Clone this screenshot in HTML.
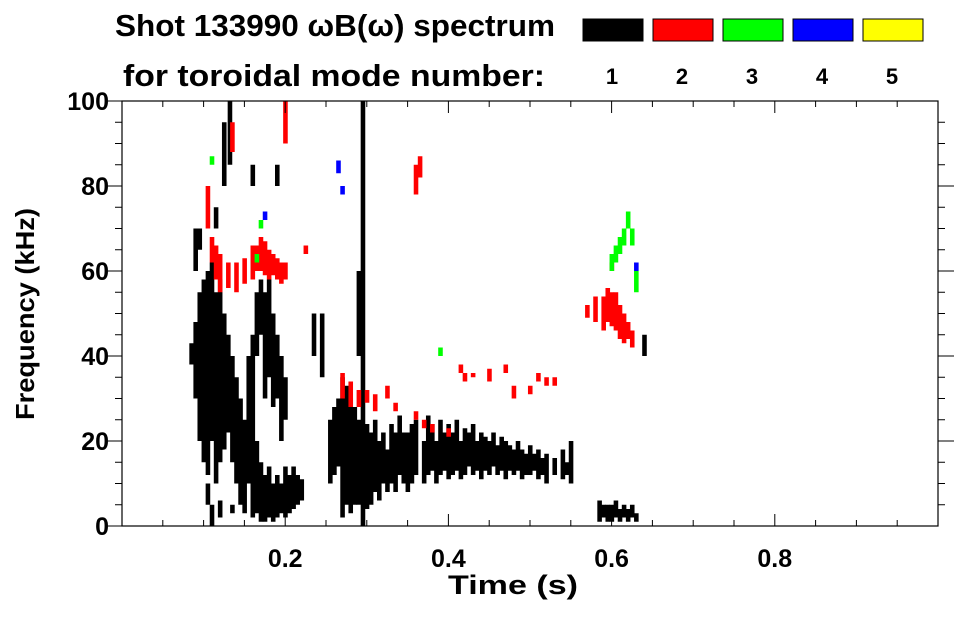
<!DOCTYPE html>
<html><head><meta charset="utf-8"><style>
body{margin:0;background:#fff;}
svg text{font-family:"Liberation Sans",Arial,sans-serif;font-weight:bold;fill:#000;}
</style></head><body>
<svg id="chart" width="963" height="615" viewBox="0 0 963 615" xmlns="http://www.w3.org/2000/svg">
<text x="335" y="36" font-size="31" text-anchor="middle" textLength="440" lengthAdjust="spacingAndGlyphs">Shot 133990 ωB(ω) spectrum</text>
<text x="334" y="86" font-size="31" text-anchor="middle" textLength="422" lengthAdjust="spacingAndGlyphs">for toroidal mode number:</text>
<g id="legend"></g>
<g id="plot"></g>
<g id="axes"></g>
<text x="513" y="594" font-size="27" text-anchor="middle" textLength="130" lengthAdjust="spacingAndGlyphs">Time (s)</text>
<text transform="translate(34,314) rotate(-90)" font-size="26" text-anchor="middle" textLength="212" lengthAdjust="spacingAndGlyphs">Frequency (kHz)</text>
</svg>
<script>
const modeNumbers=[1,2,3,4,5];
const modeColors=["#000000","#ff0000","#00ff00","#0000ff","#ffff00"];
const xTicks=[0.2,0.4,0.6,0.8];
const yTicks=[0,20,40,60,80,100];
const segTime=[0.085,0.09,0.09,0.095,0.095,0.10,0.105,0.105,0.11,0.115,0.115,0.12,0.12,0.125,0.125,0.13,0.135,0.135,0.14,0.145,0.15,0.155,0.16,0.16,0.165,0.165,0.17,0.17,0.175,0.175,0.18,0.18,0.185,0.185,0.19,0.19,0.195,0.195,0.2,0.2,0.205,0.21,0.215,0.22,0.235,0.245,0.255,0.26,0.265,0.27,0.275,0.28,0.285,0.29,0.29,0.295,0.3,0.305,0.31,0.315,0.32,0.325,0.33,0.335,0.34,0.345,0.35,0.355,0.36,0.37,0.375,0.38,0.385,0.39,0.395,0.4,0.405,0.41,0.415,0.42,0.425,0.43,0.435,0.44,0.445,0.45,0.455,0.46,0.465,0.47,0.475,0.48,0.485,0.49,0.495,0.5,0.505,0.51,0.515,0.52,0.53,0.54,0.545,0.55,0.585,0.59,0.595,0.6,0.605,0.61,0.615,0.62,0.625,0.63,0.64,0.11,0.132,0.19,
0.105,0.11,0.115,0.12,0.13,0.14,0.15,0.16,0.165,0.17,0.175,0.18,0.185,0.19,0.195,0.2,0.225,0.135,0.2,0.27,0.28,0.29,0.3,0.31,0.325,0.335,0.36,0.37,0.38,0.36,0.365,0.4,0.415,0.42,0.43,0.45,0.47,0.48,0.5,0.51,0.52,0.53,0.57,0.58,0.59,0.595,0.6,0.605,0.61,0.615,0.62,0.625,0.6,
0.11,0.17,0.165,0.6,0.605,0.61,0.615,0.62,0.625,0.63,0.39,
0.27,0.265,0.175,0.63];
const segLow=[38,30,60,20,65,15,12,5,20,10,70,15,2,18,80,22,15,3,10,5,3,10,2,80,3,40,1,45,1,30,2,35,1,28,2,30,3,20,2,25,3,4,5,6,40,35,10,12,14,2,5,3,5,5,40,0,4,5,8,6,10,8,10,8,12,10,8,10,12,10,12,13,10,12,13,11,12,13,11,12,14,12,13,11,13,12,14,12,13,11,13,12,13,11,12,12,13,11,12,10,12,11,12,10,1,2,1,1,2,1,2,1,2,1,40,0,85,80,
70,62,58,55,56,55,57,58,60,60,59,58,59,58,57,58,64,88,90,30,28,28,29,27,30,27,25,23,22,78,82,21,36,34,35,34,36,30,31,34,33,33,49,48,46,48,47,46,44,43,44,42,60,
85,70,62,60,62,64,66,70,66,55,40,
78,83,72,60];
const segHigh=[43,48,70,55,70,58,60,10,62,55,75,58,6,50,95,45,40,5,35,30,25,40,45,85,20,55,15,58,12,55,14,58,10,50,12,45,10,40,14,35,12,14,12,11,50,50,25,28,30,35,33,30,28,25,60,100,24,22,25,20,22,18,24,22,26,22,22,24,25,20,26,24,20,25,22,24,22,25,20,23,22,24,20,22,21,20,22,19,21,20,19,18,20,18,17,19,17,18,16,17,16,18,15,20,6,5,5,5,6,4,5,4,5,3,45,5,100,85,
80,68,66,64,62,62,63,66,66,68,67,65,64,63,62,62,66,95,100,36,34,32,32,31,33,29,27,25,24,85,87,23,38,36,36,37,38,33,33,36,35,35,52,54,54,56,55,55,52,50,48,46,62,
87,72,64,64,66,68,70,74,70,60,42,
80,86,74,62];
const segMode=[1,1,1,1,1,1,1,1,1,1,1,1,1,1,1,1,1,1,1,1,1,1,1,1,1,1,1,1,1,1,1,1,1,1,1,1,1,1,1,1,1,1,1,1,1,1,1,1,1,1,1,1,1,1,1,1,1,1,1,1,1,1,1,1,1,1,1,1,1,1,1,1,1,1,1,1,1,1,1,1,1,1,1,1,1,1,1,1,1,1,1,1,1,1,1,1,1,1,1,1,1,1,1,1,1,1,1,1,1,1,1,1,1,1,1,1,1,1,
2,2,2,2,2,2,2,2,2,2,2,2,2,2,2,2,2,2,2,2,2,2,2,2,2,2,2,2,2,2,2,2,2,2,2,2,2,2,2,2,2,2,2,2,2,2,2,2,2,2,2,2,2,
3,3,3,3,3,3,3,3,3,3,3,
4,4,4,4];

const NS="http://www.w3.org/2000/svg";
const X0=122,X1=938,Y0=526,Y1=101;
const xScale=t=>X0+(t-0)/(1-0)*(X1-X0);
const yScale=f=>Y0-(f-0)/(100-0)*(Y0-Y1);
function mk(tag,parent,attrs){const e=document.createElementNS(NS,tag);for(const k in attrs)e.setAttribute(k,attrs[k]);parent.appendChild(e);return e;}
const plot=document.getElementById('plot'),axes=document.getElementById('axes'),legend=document.getElementById('legend');
const w=Math.max(3,xScale(0.005)-xScale(0));
for(let i=0;i<segTime.length;i++){
  const y1=yScale(segHigh[i]),y2=yScale(segLow[i]);
  const r=mk('rect',plot,{x:xScale(segTime[i])-w/2,y:y1,width:w+0.5,height:Math.max(1,y2-y1),fill:modeColors[segMode[i]-1]});
  
  
}
const fr=mk('rect',axes,{x:X0,y:Y1,width:X1-X0,height:Y0-Y1,fill:'none',stroke:'#000','stroke-width':1.2});


for(let t=0.05;t<1;t+=0.05){
  const x=xScale(t),maj=Math.abs(t*10-Math.round(t*10))<1e-6&&Math.round(t*10)%2===0;
  const L=maj?12:6;
  mk('line',axes,{x1:x,y1:Y0,x2:x,y2:Y0-L,stroke:'#000'});
  mk('line',axes,{x1:x,y1:Y1,x2:x,y2:Y1+L,stroke:'#000'});
}
for(let f=5;f<100;f+=5){
  const y=yScale(f),L=f%20===0?16:7;
  mk('line',axes,{x1:X0,y1:y,x2:X0-L,y2:y,stroke:'#000'});
  mk('line',axes,{x1:X1,y1:y,x2:X1+L,y2:y,stroke:'#000'});
}
mk('line',axes,{x1:X0-16,y1:Y0,x2:X0,y2:Y0,stroke:'#000'});
mk('line',axes,{x1:X0-16,y1:Y1,x2:X0,y2:Y1,stroke:'#000'});
xTicks.forEach(t=>{
  const tx=mk('text',axes,{x:xScale(t),y:567,'font-size':25,'text-anchor':'middle'});
  tx.textContent=t.toFixed(1);
  
  
});
yTicks.forEach(f=>{
  const tx=mk('text',axes,{x:109,y:yScale(f)+9,'font-size':25,'text-anchor':'end'});
  tx.textContent=String(f);
  
  
});
modeNumbers.forEach((m,i)=>{
  const bx=583+i*70;
  const r=mk('rect',legend,{x:bx,y:19,width:60,height:22,fill:modeColors[i],stroke:'#000','stroke-width':1});
  
  
  const tx=mk('text',legend,{x:bx+29,y:84,'font-size':22,'text-anchor':'middle'});
  tx.textContent=String(m);
  
  
});
</script>
</body></html>
